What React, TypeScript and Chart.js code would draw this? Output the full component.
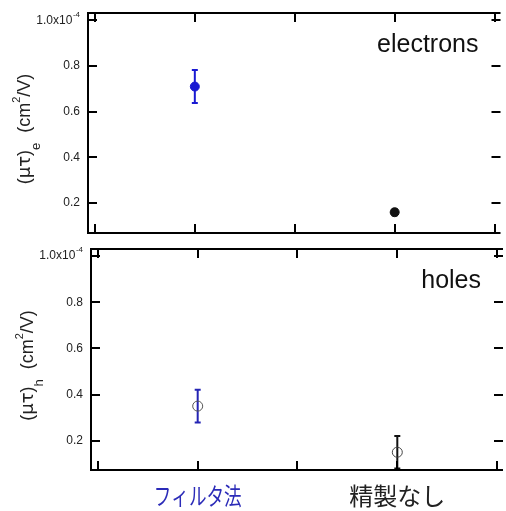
import React, { useEffect, useRef } from "react";
import { Chart, registerables } from "chart.js";

Chart.register(...registerables);

// ---------------- data ----------------
const SAMPLE_LABELS = ["フィルタ法", "精製なし"];
const SAMPLE_X = [1, 3];
const X_TICKS = [0, 1, 2, 3, 4];
const Y_TICKS = [0.2, 0.4, 0.6, 0.8, 1.0]; // in units of 10^-4 cm²/V
const ELECTRON_VALUES = [0.71, 0.16];
const ELECTRON_ERRORS = [0.072, 0.013];
const HOLE_VALUES = [0.35, 0.15];
const HOLE_ERRORS = [0.071, 0.07];

// ---------------- styles ----------------
const SAMPLE_COLORS = ["#1a1ad2", "#111111"];
const HOLE_BAR_COLORS = ["#2424b4", "#111111"];
const LABEL_COLORS = ["#2b2bb8", "#222222"];
const LABEL_MAX_WIDTH = [88, 100];
const SANS = "'Liberation Sans', Arial, sans-serif";
const CJK = "'Noto Sans CJK JP', sans-serif";

function drawRich(ctx: CanvasRenderingContext2D, parts: any[], cx: number, cy: number) {
  ctx.save();
  ctx.translate(cx, cy);
  ctx.rotate(-Math.PI / 2);
  ctx.textAlign = "left";
  ctx.textBaseline = "alphabetic";
  const widths = parts.map((p) => {
    ctx.font = `${p.s}px ${p.f || SANS}`;
    return ctx.measureText(p.t).width;
  });
  const total = widths.reduce((a, b) => a + b, 0);
  let u = -total / 2;
  parts.forEach((p, i) => {
    ctx.font = `${p.s}px ${p.f || SANS}`;
    ctx.fillText(p.t, u, p.dy);
    u += widths[i];
  });
  ctx.restore();
}

const panelPlugin: any = {
  id: "panel",
  beforeDatasetsDraw(chart: any, _a: any, o: any) {
    const { ctx, chartArea: ca } = chart;
    const x = chart.scales.x;
    const y = chart.scales.y;
    ctx.save();
    ctx.beginPath();
    ctx.rect(ca.left, ca.top, ca.right - ca.left, ca.bottom - ca.top);
    ctx.clip();
    o.values.forEach((v: number, i: number) => {
      const px = x.getPixelForValue(SAMPLE_X[i]);
      const y1 = y.getPixelForValue(v + o.errors[i]);
      const y2 = y.getPixelForValue(v - o.errors[i]);
      ctx.strokeStyle = o.barColors[i];
      ctx.lineWidth = 2;
      ctx.beginPath();
      ctx.moveTo(px, y1);
      ctx.lineTo(px, y2);
      ctx.moveTo(px - 3, y1);
      ctx.lineTo(px + 3, y1);
      ctx.moveTo(px - 3, y2);
      ctx.lineTo(px + 3, y2);
      ctx.stroke();
    });
    ctx.restore();
  },
  afterDraw(chart: any, _a: any, o: any) {
    const { ctx, chartArea: ca } = chart;
    const x = chart.scales.x;
    const y = chart.scales.y;
    ctx.save();
    // frame
    ctx.strokeStyle = "#000";
    ctx.lineWidth = 2;
    ctx.beginPath();
    ctx.moveTo(ca.right, ca.top);
    ctx.lineTo(ca.left, ca.top);
    ctx.lineTo(ca.left, ca.bottom);
    ctx.lineTo(ca.right, ca.bottom);
    ctx.stroke();
    // inward ticks
    ctx.lineWidth = 2;
    ctx.beginPath();
    X_TICKS.forEach((v) => {
      const px = Math.round(x.getPixelForValue(v));
      ctx.moveTo(px, ca.top);
      ctx.lineTo(px, ca.top + 9);
      ctx.moveTo(px, ca.bottom);
      ctx.lineTo(px, ca.bottom - 9);
    });
    Y_TICKS.forEach((v) => {
      const py = Math.round(y.getPixelForValue(v));
      ctx.moveTo(ca.left, py);
      ctx.lineTo(ca.left + 9, py);
      ctx.moveTo(ca.right, py);
      ctx.lineTo(ca.right - 9, py);
    });
    ctx.stroke();
    // top tick label 1.0x10^-4
    ctx.fillStyle = "#222";
    const y1 = y.getPixelForValue(1.0);
    const end = ca.left - 8;
    ctx.textBaseline = "middle";
    ctx.textAlign = "left";
    ctx.font = `8px ${SANS}`;
    const w4 = ctx.measureText("-4").width;
    ctx.fillText("-4", end - w4, y1 - 6);
    ctx.textAlign = "right";
    ctx.font = `12px ${SANS}`;
    ctx.fillText("1.0x10", end - w4 - 0.5, y1);
    // y title
    drawRich(
      ctx,
      [
        { t: "(", s: 18, dy: 0 },
        { t: "μτ", s: 18, dy: 0, f: "'DejaVu Sans', sans-serif" },
        { t: ")", s: 18, dy: 0 },
        { t: o.sub, s: 13, dy: 10 },
        { t: "  (cm", s: 18, dy: 0 },
        { t: "2", s: 11, dy: -10 },
        { t: "/V)", s: 18, dy: 0 },
      ],
      ca.left - 58.5,
      (ca.top + ca.bottom) / 2 + 6
    );
    // panel name
    ctx.fillStyle = "#111";
    ctx.font = `25px ${SANS}`;
    ctx.textAlign = "right";
    ctx.textBaseline = "alphabetic";
    ctx.fillText(o.name, ca.right - 22, ca.top + 39);
    // category labels
    if (o.showLabels) {
      ctx.font = `24px ${CJK}`;
      ctx.textAlign = "center";
      ctx.textBaseline = "middle";
      SAMPLE_LABELS.forEach((lab, i) => {
        ctx.fillStyle = LABEL_COLORS[i];
        ctx.fillText(lab, x.getPixelForValue(SAMPLE_X[i]), ca.bottom + 26, LABEL_MAX_WIDTH[i]);
      });
    }
    ctx.restore();
  },
};

function Panel(props: any) {
  const ref = useRef<HTMLCanvasElement>(null);
  useEffect(() => {
    const chart = new Chart(ref.current as HTMLCanvasElement, {
      type: "scatter",
      data: {
        datasets: [
          {
            data: SAMPLE_X.map((xv, i) => ({ x: xv, y: props.values[i] })),
            pointRadius: props.radius,
            pointBackgroundColor: props.fill,
            pointBorderColor: props.stroke,
            pointBorderWidth: 1,
            showLine: false,
          },
        ],
      },
      options: {
        responsive: false,
        animation: false,
        devicePixelRatio: 1,
        layout: { padding: { top: props.padTop, left: 0, right: 0, bottom: 0 } },
        plugins: {
          legend: { display: false },
          tooltip: { enabled: false },
          panel: {
            values: props.values,
            errors: props.errors,
            barColors: props.barColors,
            name: props.name,
            sub: props.sub,
            showLabels: props.showLabels,
          },
        } as any,
        scales: {
          x: {
            type: "linear",
            min: -0.069,
            max: 4.059,
            afterBuildTicks: (s: any) => {
              s.ticks = X_TICKS.map((v) => ({ value: v }));
            },
            afterFit: (s: any) => {
              s.height = props.xHeight;
              s.paddingLeft = 0;
              s.paddingRight = 0;
            },
            grid: { display: false, drawTicks: false },
            border: { display: false },
            ticks: { display: false },
          },
          y: {
            type: "linear",
            min: props.yMin,
            max: props.yMax,
            afterBuildTicks: (s: any) => {
              s.ticks = Y_TICKS.map((v) => ({ value: v }));
            },
            afterFit: (s: any) => {
              s.width = 88;
              s.paddingTop = 0;
              s.paddingBottom = 0;
            },
            grid: { display: false, drawTicks: false },
            border: { display: false },
            ticks: {
              padding: 8,
              color: "#222",
              font: { family: SANS, size: 12 },
              callback: (v: any) => (Number(v) >= 0.99 ? "" : Number(v).toFixed(1)),
            },
          },
        },
      } as any,
      plugins: [panelPlugin],
    });
    return () => chart.destroy();
  }, []);
  return (
    <canvas
      ref={ref}
      width={506}
      height={props.height}
      style={{ display: "block", width: 506, height: props.height }}
    />
  );
}

export default function App() {
  return (
    <div
      style={{
        position: "absolute",
        left: 0,
        top: 0,
        width: 506,
        height: 511,
        overflow: "hidden",
        background: "#fff",
      }}
    >
      <div style={{ position: "absolute", left: 0, top: 0 }}>
        <Panel
          height={240}
          padTop={13}
          xHeight={7}
          yMin={0.069}
          yMax={1.032}
          values={ELECTRON_VALUES}
          errors={ELECTRON_ERRORS}
          barColors={SAMPLE_COLORS}
          fill={SAMPLE_COLORS}
          stroke={SAMPLE_COLORS}
          radius={4.5}
          name="electrons"
          sub="e"
          showLabels={false}
        />
      </div>
      <div style={{ position: "absolute", left: 3, top: 240 }}>
        <Panel
          height={271}
          padTop={9}
          xHeight={41}
          yMin={0.073}
          yMax={1.031}
          values={HOLE_VALUES}
          errors={HOLE_ERRORS}
          barColors={HOLE_BAR_COLORS}
          fill={["rgba(0,0,0,0)", "rgba(0,0,0,0)"]}
          stroke={["#555555", "#444444"]}
          radius={5}
          name="holes"
          sub="h"
          showLabels={true}
        />
      </div>
    </div>
  );
}
